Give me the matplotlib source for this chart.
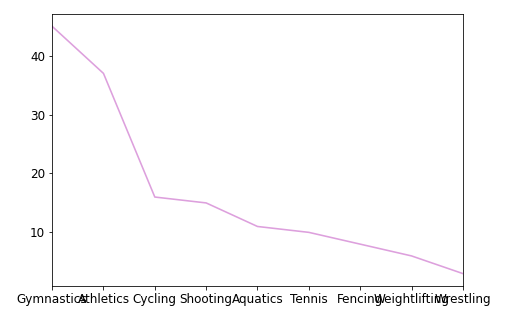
import matplotlib
matplotlib.use("Agg")
import matplotlib.pyplot as plt

sports = ['Gymnastics', 'Athletics', 'Cycling', 'Shooting', 'Aquatics',
          'Tennis', 'Fencing', 'Weightlifting', 'Wrestling']
counts = [45, 37, 16, 15, 11, 10, 8, 6, 3]

plt.rcParams['font.size'] = 12
fig = plt.figure(figsize=(532 / 72, 317 / 72), dpi=72)
ax = fig.add_axes([0.098, 0.098, 0.772, 0.858])
ax.plot(sports, counts, color='plum', linewidth=1.6)
ax.set_yticks([10, 20, 30, 40])
ax.margins(x=0)

fig.savefig('out.png', dpi=72)
